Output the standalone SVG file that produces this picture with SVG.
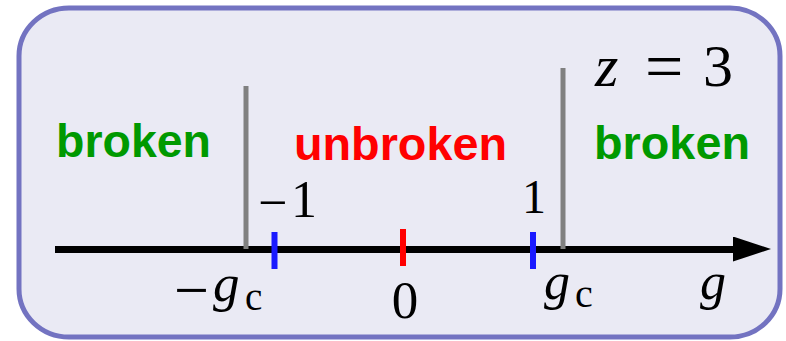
<svg xmlns="http://www.w3.org/2000/svg" width="786" height="341" viewBox="0 0 786 341">
<defs>
<style>
.lbl{font-family:"Liberation Sans",Arial,sans-serif;font-weight:bold;font-size:47px}
.green{fill:#009900}
.red{fill:#ff0000}
.m{font-family:"Liberation Serif","DejaVu Serif",serif;fill:#000}
.it{font-style:italic}
.gray{stroke:#808080;stroke-width:5}
.blue{stroke:#1a1aff;stroke-width:6}
.redtick{stroke:#ff0000;stroke-width:6}
</style>
<marker id="arr" markerUnits="userSpaceOnUse" markerWidth="40" markerHeight="26" refX="0" refY="13" orient="auto" viewBox="0 0 40 26">
<polygon points="0,0 38,12.5 0,25" fill="#000"/>
</marker>
</defs>
<rect width="786" height="341" fill="#ffffff"/>
<g id="frame">
<rect x="19" y="8" width="761" height="329" rx="50" ry="48" fill="#eaeaf4" stroke="#7373c1" stroke-width="5"/>
</g>
<g id="connectors">
<line x1="55" y1="249.5" x2="733" y2="249.5" stroke="#000" stroke-width="7" marker-end="url(#arr)"/>
<line class="gray" x1="246" y1="86" x2="246" y2="249"/>
<line class="gray" x1="563" y1="68" x2="563" y2="249"/>
<line class="blue" x1="274.5" y1="232" x2="274.5" y2="269"/>
<line class="redtick" x1="403" y1="229" x2="403" y2="266"/>
<line class="blue" x1="533" y1="232" x2="533" y2="269"/>
</g>
<g id="broken-left"><text class="lbl green" x="56" y="157" textLength="155" lengthAdjust="spacingAndGlyphs">broken</text></g>
<g id="unbroken"><text class="lbl red" x="294" y="160" textLength="213" lengthAdjust="spacingAndGlyphs">unbroken</text></g>
<g id="broken-right"><text class="lbl green" x="594" y="159" textLength="156" lengthAdjust="spacingAndGlyphs">broken</text></g>
<g id="z-label"><text class="m" y="86"><tspan class="it" x="595" font-size="60">z</tspan><tspan x="645" font-size="68" dy="3">=</tspan><tspan x="703" font-size="60" dy="-3">3</tspan></text></g>
<g id="tick-m1"><text class="m" font-size="52" y="217"><tspan x="258" dy="3">−</tspan><tspan x="291" dy="-3">1</tspan></text></g>
<g id="tick-1"><text class="m" font-size="48" x="534" y="213" text-anchor="middle">1</text></g>
<g id="tick-0"><text class="m" font-size="53" x="405" y="318" text-anchor="middle">0</text></g>
<g id="neg-gc"><text class="m" y="301"><tspan x="174" font-size="62" dy="10">−</tspan><tspan class="it" x="213" font-size="53" dy="-10">g</tspan><tspan x="245" dy="9" font-size="39">c</tspan></text></g>
<g id="gc"><text class="m" y="299"><tspan class="it" x="544" font-size="52">g</tspan><tspan x="575" dy="8" font-size="40">c</tspan></text></g>
<g id="g-axis"><text class="m it" font-size="52" x="700" y="299">g</text></g>
</svg>
